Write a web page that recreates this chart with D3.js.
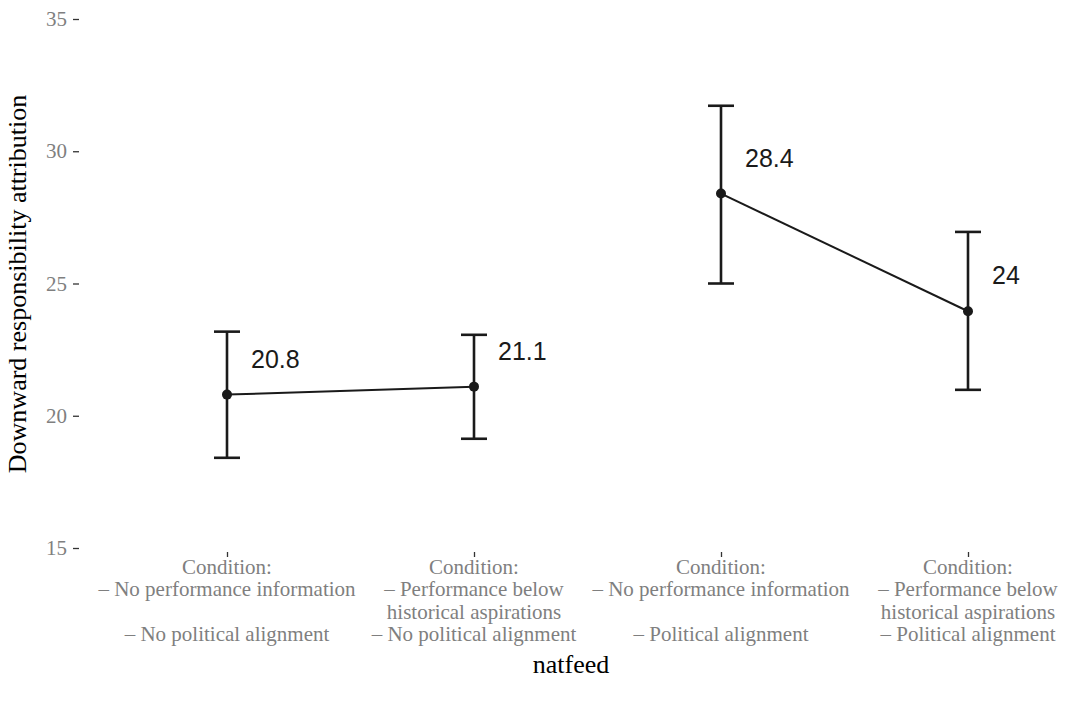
<!DOCTYPE html>
<html>
<head>
<meta charset="utf-8">
<script src="https://cdnjs.cloudflare.com/ajax/libs/d3/7.8.5/d3.min.js"></script>
<style>
  body { margin: 0; background: #fff; }
  svg { display: block; }
</style>
</head>
<body>
<div id="chart"></div>
<script>
// data
var conditions = ['c1', 'c2', 'c3', 'c4'];
var conditionLabels = [
  ['Condition:', '\u2013 No performance information', '', '\u2013 No political alignment'],
  ['Condition:', '\u2013 Performance below', 'historical aspirations', '\u2013 No political alignment'],
  ['Condition:', '\u2013 No performance information', '', '\u2013 Political alignment'],
  ['Condition:', '\u2013 Performance below', 'historical aspirations', '\u2013 Political alignment']
];
// line groups: political alignment no / yes
var groups = ['no', 'no', 'yes', 'yes'];
var means = [20.8, 21.1, 28.4, 23.95];
var meanLabels = ['20.8', '21.1', '28.4', '24'];
var lower = [18.41, 19.13, 25.0, 20.98];
var upper = [23.18, 23.06, 31.72, 26.95];
var yTicks = [15, 20, 25, 30, 35];

var width = 1068, height = 703;
var serif = '"Liberation Serif", "Times New Roman", serif';
var sans = '"Liberation Sans", Arial, Helvetica, sans-serif';

var svg = d3.select('#chart')
  .append('svg')
  .attr('width', width)
  .attr('height', height);

var x = d3.scalePoint()
  .domain(conditions)
  .range([227, 968]);

var y = d3.scaleLinear()
  .domain([15, 35])
  .range([548, 19]);

var rows = conditions.map(function(c, i) {
  return { key: c, group: groups[i], mean: means[i], lo: lower[i], hi: upper[i], label: meanLabels[i] };
});

// y axis
var yAxis = svg.append('g')
  .attr('transform', 'translate(79,0)')
  .call(d3.axisLeft(y).tickValues(yTicks).tickSize(6).tickPadding(6));
yAxis.select('.domain').remove();
yAxis.selectAll('.tick line').attr('stroke', '#333').attr('stroke-width', 1.3);
yAxis.selectAll('.tick text')
  .attr('fill', '#7f7f7f')
  .style('font-family', serif)
  .style('font-size', '21px');

// x axis, ticks only
var xAxis = svg.append('g')
  .attr('transform', 'translate(0,552)')
  .call(d3.axisBottom(x).tickSize(5).tickFormat(''));
xAxis.select('.domain').remove();
xAxis.selectAll('.tick line').attr('stroke', '#333').attr('stroke-width', 1.3);

// multi line category labels
conditions.forEach(function(c, i) {
  var t = svg.append('text')
    .attr('x', x(c))
    .attr('y', 574)
    .attr('text-anchor', 'middle')
    .attr('fill', '#7f7f7f')
    .style('font-family', serif)
    .style('font-size', '21px');
  conditionLabels[i].forEach(function(line, j) {
    t.append('tspan')
      .attr('x', x(c))
      .attr('y', 574 + j * 22.3)
      .text(line);
  });
});

// connecting lines, one per group
var line = d3.line()
  .x(function(d) { return x(d.key); })
  .y(function(d) { return y(d.mean); });

var byGroup = d3.groups(rows, function(d) { return d.group; });

svg.append('g').selectAll('path')
  .data(byGroup)
  .enter().append('path')
  .attr('d', function(g) { return line(g[1]); })
  .attr('fill', 'none')
  .attr('stroke', '#1a1a1a')
  .attr('stroke-width', 2);

// error bars
var capHalf = 13;
var bars = svg.append('g').selectAll('g')
  .data(rows)
  .enter().append('g')
  .attr('stroke', '#1a1a1a')
  .attr('stroke-width', 2.6);

bars.append('line')
  .attr('x1', function(d) { return x(d.key); })
  .attr('x2', function(d) { return x(d.key); })
  .attr('y1', function(d) { return y(d.lo); })
  .attr('y2', function(d) { return y(d.hi); });
bars.append('line')
  .attr('x1', function(d) { return x(d.key) - capHalf; })
  .attr('x2', function(d) { return x(d.key) + capHalf; })
  .attr('y1', function(d) { return y(d.hi); })
  .attr('y2', function(d) { return y(d.hi); });
bars.append('line')
  .attr('x1', function(d) { return x(d.key) - capHalf; })
  .attr('x2', function(d) { return x(d.key) + capHalf; })
  .attr('y1', function(d) { return y(d.lo); })
  .attr('y2', function(d) { return y(d.lo); });

// points
svg.append('g').selectAll('circle')
  .data(rows)
  .enter().append('circle')
  .attr('cx', function(d) { return x(d.key); })
  .attr('cy', function(d) { return y(d.mean); })
  .attr('r', 5)
  .attr('fill', '#1a1a1a');

// value labels
svg.append('g').selectAll('text')
  .data(rows)
  .enter().append('text')
  .attr('x', function(d) { return x(d.key) + 24; })
  .attr('y', function(d) { return y(d.mean) - 36; })
  .attr('dy', '0.36em')
  .attr('fill', '#1a1a1a')
  .style('font-family', sans)
  .style('font-size', '25px')
  .text(function(d) { return d.label; });

// axis titles
svg.append('text')
  .attr('x', 571)
  .attr('y', 673)
  .attr('text-anchor', 'middle')
  .attr('fill', '#000')
  .style('font-family', serif)
  .style('font-size', '26px')
  .text('natfeed');

svg.append('text')
  .attr('transform', 'translate(26,284) rotate(-90)')
  .attr('text-anchor', 'middle')
  .attr('fill', '#000')
  .style('font-family', serif)
  .style('font-size', '26px')
  .text('Downward responsibility attribution');
</script>
</body>
</html>
